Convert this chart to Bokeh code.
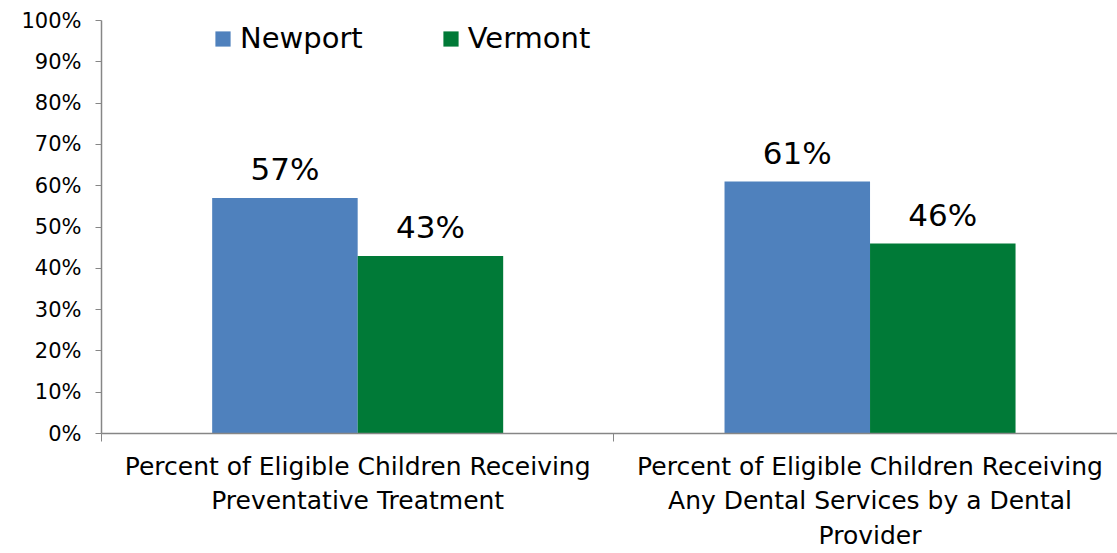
from bokeh.plotting import figure
from bokeh.models import ColumnDataSource, FixedTicker, Range1d, Legend, LegendItem, CustomJSTickFormatter
from bokeh.core.properties import value
from bokeh.embed import file_html
from bokeh.resources import INLINE

categories = ["Percent of Eligible Children Receiving\nPreventative Treatment",
              "Percent of Eligible Children Receiving\nAny Dental Services by a Dental\nProvider"]
series_names = ["Newport", "Vermont"]
newport = [57, 61]
vermont = [43, 46]
colors = ["#4F81BD", "#007A37"]
y_ticks = [0, 10, 20, 30, 40, 50, 60, 70, 80, 90, 100]

FONT = "DejaVu Sans"
centers = [i + 0.5 for i in range(len(categories))]
bw = 0.284

p = figure(width=1117, height=553, output_backend="svg", toolbar_location=None,
           x_range=Range1d(0, 1.983), y_range=Range1d(0, 100),
           min_border_left=101, min_border_top=20, min_border_right=0, min_border_bottom=120)
p.outline_line_color = None
p.grid.grid_line_color = None
p.background_fill_color = "white"

renderers = []
for k, (vals, col) in enumerate(zip([newport, vermont], colors)):
    xs = [c + (k - 0.5) * bw for c in centers]
    src = ColumnDataSource(dict(x=xs, top=vals, lab=[f"{v}%" for v in vals]))
    r = p.vbar(x="x", top="top", width=bw, bottom=0, source=src, fill_color=col, line_color=None)
    renderers.append(r)
    p.text(x="x", y="top", text="lab", source=src, text_align="center", text_baseline="alphabetic",
           y_offset=-29, text_font=value(FONT), text_font_size="31px", text_color="black")

legend = Legend(items=[LegendItem(label=n, renderers=[r]) for n, r in zip(series_names, renderers)],
                orientation="horizontal", location=(112, 377), padding=0, margin=0,
                spacing=78, label_standoff=8, glyph_width=19, glyph_height=19, label_height=36,
                label_text_font=FONT, label_text_font_size="29px", label_text_color="black",
                border_line_color=None, background_fill_alpha=0)
p.add_layout(legend, "center")

# x axis
p.xaxis.ticker = FixedTicker(ticks=centers, minor_ticks=[0, 1, 2])
p.xaxis.major_label_overrides = {c: lab for c, lab in zip(centers, categories)}
p.xaxis.major_tick_line_color = None
p.xaxis.minor_tick_line_color = "#868686"
p.xaxis.minor_tick_in = 0
p.xaxis.minor_tick_out = 8
p.xaxis.axis_line_color = "#868686"
p.xaxis.axis_line_width = 1.5
p.xaxis.major_label_text_font = FONT
p.xaxis.major_label_text_font_size = "25px"
p.xaxis.major_label_text_color = "black"
p.xaxis.major_label_standoff = 10

# y axis
p.yaxis.ticker = FixedTicker(ticks=y_ticks)
p.yaxis.formatter = CustomJSTickFormatter(code="return tick.toFixed(0) + '%';")
p.yaxis.axis_line_color = "#868686"
p.yaxis.axis_line_width = 1.5
p.yaxis.major_tick_line_color = "#868686"
p.yaxis.major_tick_in = 0
p.yaxis.major_tick_out = 6
p.yaxis.minor_tick_line_color = None
p.yaxis.major_label_text_font = FONT
p.yaxis.major_label_text_font_size = "21px"
p.yaxis.major_label_text_color = "black"
p.yaxis.major_label_standoff = 14

open("out.html", "w").write(file_html(p, INLINE))
